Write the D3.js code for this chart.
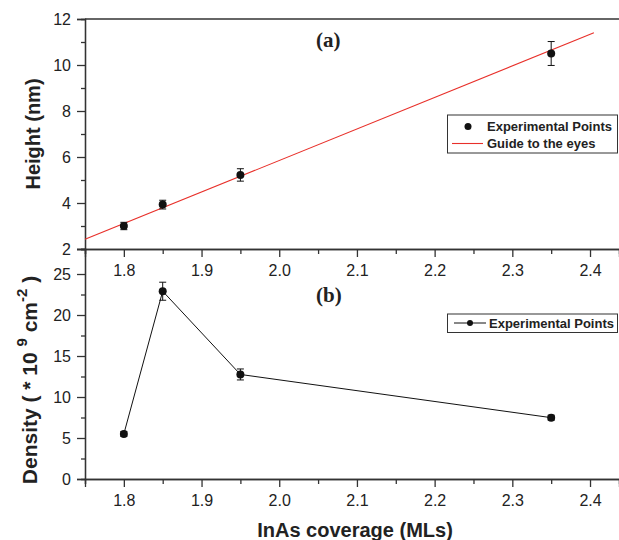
<!DOCTYPE html>
<html>
<head>
<meta charset="utf-8">
<script src="https://cdn.jsdelivr.net/npm/d3@7"></script>
<style>
  body { margin: 0; background: #fff; }
  svg { display: block; font-family: "Liberation Sans", Arial, sans-serif; }
  .axis path, .axis line { stroke: #333; stroke-width: 1.3; }
  .axis text { fill: #222; font-size: 16px; }
</style>
</head>
<body>
<div id="chart"></div>
<script>
var width = 619;
var height = 540;

// coverage (MLs)
var coverage = [1.8, 1.85, 1.95, 2.35];
// panel (a) height in nm with error
var heightNm = [3.0, 3.93, 5.22, 10.5];
var heightErr = [0.16, 0.19, 0.27, 0.52];
// guide line end points
var guideX = [1.75, 2.405];
var guideY = [2.42, 11.4];
// panel (b) density
var density = [5.5, 22.9, 12.75, 7.48];
var densityErr = [0.3, 1.1, 0.67, 0.3];

var xTicks = [1.8, 1.9, 2.0, 2.1, 2.2, 2.3, 2.4];
var xMinor = [1.75, 1.85, 1.95, 2.05, 2.15, 2.25, 2.35];
var hTicks = [2, 4, 6, 8, 10, 12];
var hMinor = [3, 5, 7, 9, 11];
var dTicks = [0, 5, 10, 15, 20, 25];
var dMinor = [2.5, 7.5, 12.5, 17.5, 22.5];

var svg = d3.select('#chart').append('svg')
  .attr('width', width)
  .attr('height', height);

var x = d3.scaleLinear().domain([1.75, 2.4373]).range([85, 619]);
var yA = d3.scaleLinear().domain([2, 12]).range([249, 19]);
var yB = d3.scaleLinear().domain([0, 28.05]).range([479, 249]);

function fmtX(d) { return d3.format('.1f')(d); }

// top border
svg.append('line')
  .attr('x1', 85).attr('x2', 619).attr('y1', 19).attr('y2', 19)
  .attr('stroke', '#333').attr('stroke-width', 1.3);

// panel a axes
svg.append('g').attr('class', 'axis')
  .attr('transform', 'translate(85,0)')
  .call(d3.axisLeft(yA).tickValues(hTicks).tickSize(8).tickPadding(6).tickFormat(d3.format('d')));
svg.append('g').attr('class', 'axis')
  .attr('transform', 'translate(85,0)')
  .call(d3.axisLeft(yA).tickValues(hMinor).tickSize(4).tickFormat(''));
svg.append('g').attr('class', 'axis')
  .attr('transform', 'translate(0,249)')
  .call(d3.axisBottom(x).tickValues(xTicks).tickSize(8).tickPadding(8).tickFormat(fmtX));
svg.append('g').attr('class', 'axis')
  .attr('transform', 'translate(0,249)')
  .call(d3.axisBottom(x).tickValues(xMinor).tickSize(5).tickFormat(''));

// panel b axes
svg.append('g').attr('class', 'axis')
  .attr('transform', 'translate(85,0)')
  .call(d3.axisLeft(yB).tickValues(dTicks).tickSize(8).tickPadding(6).tickFormat(d3.format('d')));
svg.append('g').attr('class', 'axis')
  .attr('transform', 'translate(85,0)')
  .call(d3.axisLeft(yB).tickValues(dMinor).tickSize(4).tickFormat(''));
svg.append('g').attr('class', 'axis')
  .attr('transform', 'translate(0,479)')
  .call(d3.axisBottom(x).tickValues(xTicks).tickSize(8).tickPadding(8).tickFormat(fmtX));
svg.append('g').attr('class', 'axis')
  .attr('transform', 'translate(0,479)')
  .call(d3.axisBottom(x).tickValues(xMinor).tickSize(5).tickFormat(''));

// guide line (red)
svg.append('line')
  .attr('x1', x(guideX[0])).attr('y1', yA(guideY[0]))
  .attr('x2', x(guideX[1])).attr('y2', yA(guideY[1]))
  .attr('stroke', '#e8302a').attr('stroke-width', 1.1);

function errorBars(yScale, vals, errs) {
  var g = svg.append('g').attr('stroke', '#111').attr('stroke-width', 1);
  coverage.forEach(function (c, i) {
    var cx = x(c);
    var y1 = yScale(vals[i] - errs[i]);
    var y2 = yScale(vals[i] + errs[i]);
    g.append('line').attr('x1', cx).attr('x2', cx).attr('y1', y1).attr('y2', y2);
    g.append('line').attr('x1', cx - 3.5).attr('x2', cx + 3.5).attr('y1', y1).attr('y2', y1);
    g.append('line').attr('x1', cx - 3.5).attr('x2', cx + 3.5).attr('y1', y2).attr('y2', y2);
  });
}

// panel a points
errorBars(yA, heightNm, heightErr);
svg.append('g').selectAll('circle')
  .data(coverage).enter().append('circle')
  .attr('cx', function (d) { return x(d); })
  .attr('cy', function (d, i) { return yA(heightNm[i]); })
  .attr('r', 4)
  .attr('fill', '#111');

// panel b line + points
var line = d3.line()
  .x(function (d) { return x(d); })
  .y(function (d, i) { return yB(density[i]); });
svg.append('path')
  .datum(coverage)
  .attr('d', line)
  .attr('fill', 'none')
  .attr('stroke', '#111')
  .attr('stroke-width', 1);
errorBars(yB, density, densityErr);
svg.append('g').selectAll('circle')
  .data(coverage).enter().append('circle')
  .attr('cx', function (d) { return x(d); })
  .attr('cy', function (d, i) { return yB(density[i]); })
  .attr('r', 4)
  .attr('fill', '#111');

// panel labels
svg.append('text').attr('x', 316).attr('y', 47)
  .style('font-family', '"Liberation Serif", "Times New Roman", serif')
  .style('font-weight', 'bold').style('font-size', '21px').attr('fill', '#222')
  .text('(a)');
svg.append('text').attr('x', 316).attr('y', 302)
  .style('font-family', '"Liberation Serif", "Times New Roman", serif')
  .style('font-weight', 'bold').style('font-size', '21px').attr('fill', '#222')
  .text('(b)');

// axis titles
svg.append('text')
  .attr('transform', 'translate(40,134) rotate(-90)')
  .attr('text-anchor', 'middle')
  .style('font-weight', 'bold').style('font-size', '20px').attr('fill', '#222')
  .text('Height (nm)');

var dLab = svg.append('text')
  .attr('transform', 'translate(37,380) rotate(-90)')
  .attr('text-anchor', 'middle')
  .style('font-weight', 'bold').style('font-size', '21px').attr('fill', '#222');
dLab.append('tspan').text('Density ( * 10 ');
dLab.append('tspan').attr('dy', -10).style('font-size', '15px').text('9');
dLab.append('tspan').attr('dy', 10).text('  cm');
dLab.append('tspan').attr('dy', -10).style('font-size', '15px').text('-2');
dLab.append('tspan').attr('dy', 10).text(' )');

svg.append('text')
  .attr('x', 355).attr('y', 536.5)
  .attr('text-anchor', 'middle')
  .style('font-weight', 'bold').style('font-size', '20px').attr('fill', '#222')
  .text('InAs coverage (MLs)');

// legend a
var legA = svg.append('g');
legA.append('rect').attr('x', 447.5).attr('y', 115).attr('width', 170).attr('height', 38)
  .attr('fill', '#fff').attr('stroke', '#333').attr('stroke-width', 1);
legA.append('circle').attr('cx', 468).attr('cy', 126.5).attr('r', 3.5).attr('fill', '#111');
legA.append('text').attr('x', 487).attr('y', 131)
  .style('font-weight', 'bold').style('font-size', '13px').attr('fill', '#222')
  .text('Experimental Points');
legA.append('line').attr('x1', 452).attr('x2', 483).attr('y1', 143.5).attr('y2', 143.5)
  .attr('stroke', '#e8302a').attr('stroke-width', 1.1);
legA.append('text').attr('x', 487).attr('y', 148)
  .style('font-weight', 'bold').style('font-size', '13px').attr('fill', '#222')
  .text('Guide to the eyes');

// legend b
var legB = svg.append('g');
legB.append('rect').attr('x', 447.5).attr('y', 314).attr('width', 170).attr('height', 18.5)
  .attr('fill', '#fff').attr('stroke', '#333').attr('stroke-width', 1);
legB.append('line').attr('x1', 454).attr('x2', 486).attr('y1', 323).attr('y2', 323)
  .attr('stroke', '#111').attr('stroke-width', 1);
legB.append('circle').attr('cx', 470).attr('cy', 323).attr('r', 3).attr('fill', '#111');
legB.append('text').attr('x', 489).attr('y', 327.5)
  .style('font-weight', 'bold').style('font-size', '13px').attr('fill', '#222')
  .text('Experimental Points');
</script>
</body>
</html>
